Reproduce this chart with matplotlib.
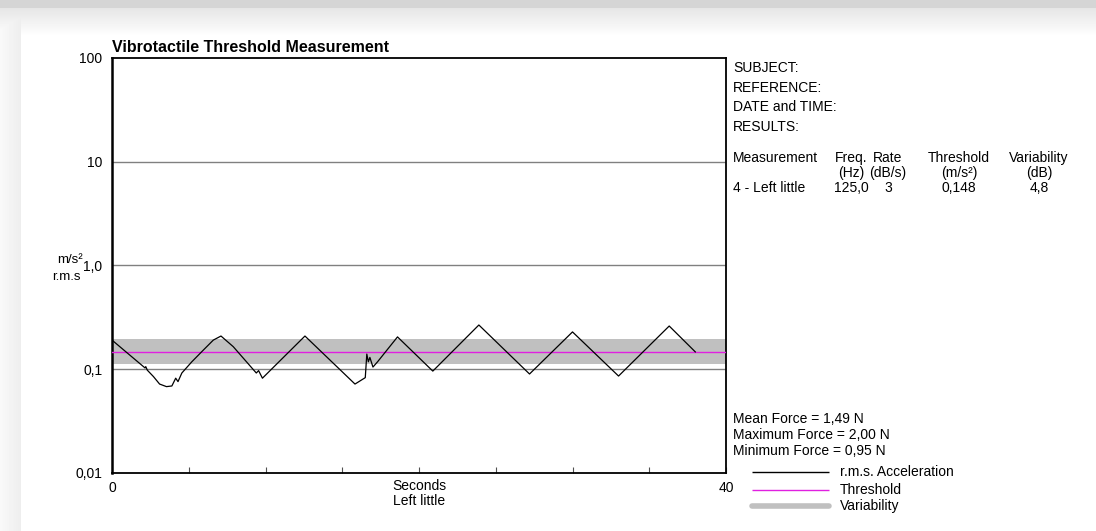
import numpy as np
import matplotlib
matplotlib.use("Agg")
import matplotlib.pyplot as plt
from matplotlib.lines import Line2D

plt.rcParams['font.family'] = ['Liberation Sans', 'DejaVu Sans']

# acceleration trace, seconds / m/s² r.m.s.
trace_t = [0.0, 2.15, 2.2, 2.3, 2.7, 3.1, 3.55, 3.9, 4.15, 4.3, 4.55, 5.2, 5.95, 6.6, 7.1,
           7.9, 9.4, 9.55, 9.8, 12.57, 15.83, 16.5, 16.6, 16.7, 16.8, 17.0, 17.3, 18.6,
           20.9, 23.9, 27.2, 30.0, 33.0, 36.3, 38.0]
trace_v = [0.191, 0.103, 0.106, 0.098, 0.085, 0.072, 0.068, 0.069, 0.082, 0.076, 0.092, 0.118,
           0.153, 0.191, 0.209, 0.165, 0.092, 0.097, 0.082, 0.209, 0.072, 0.083, 0.140, 0.118,
           0.130, 0.105, 0.118, 0.205, 0.096, 0.267, 0.090, 0.229, 0.086, 0.261, 0.147]

threshold = 0.148
variability_db = 4.8
duration = 40

y_ticks = [0.01, 0.1, 1, 10, 100]
y_ticklabels = ['0,01', '0,1', '1,0', '10', '100']

info_lines = ['SUBJECT:', 'REFERENCE:', 'DATE and TIME:', 'RESULTS:']
force_lines = ['Mean Force = 1,49 N', 'Maximum Force = 2,00 N', 'Minimum Force = 0,95 N']

W, H = 1096, 531


def px(x, y):
    return x / W, 1 - y / H


fig = plt.figure(figsize=(W / 100, H / 100), dpi=100)

# window background: grey bar on top, soft shadow at the left edge
bg = fig.add_axes([0, 0, 1, 1])
bg.axis('off')
rows = np.arange(H)[:, None]
cols = np.arange(W)[None, :]
top = np.where(rows < 8, 0.835, 0.90 + 0.10 * np.clip((rows - 8) / 28, 0, 1))
top = top * np.ones((1, W))
left = np.where(cols < 21, 0.975 - 0.045 * cols / 21, 1.0) * np.ones((H, 1))
img = np.minimum(top, left)
bg.imshow(img, cmap='gray', vmin=0, vmax=1, aspect='auto', extent=[0, 1, 0, 1])
bg.set_xlim(0, 1)
bg.set_ylim(0, 1)

ax = fig.add_axes([112 / W, 1 - 473 / H, 614 / W, 415 / H])
ax.set_yscale('log')
ax.set_ylim(0.01, 100)
ax.set_xlim(0, duration)

for v in [0.1, 1, 10]:
    ax.axhline(v, color='#808080', lw=1, zorder=1)

half = 10 ** (variability_db / 2 / 20)
ax.axhspan(threshold / half, threshold * half, color='#c0c0c0', lw=0, zorder=2)
ax.axhline(threshold, color='#e020e0', lw=1, zorder=3)
ax.plot(trace_t, trace_v, color='black', lw=0.9, zorder=4)

for s in ax.spines.values():
    s.set_color('black')
    s.set_linewidth(1.3)
ax.spines['left'].set_linewidth(1.8)

ax.set_yticks(y_ticks)
ax.set_yticklabels(y_ticklabels)
ax.yaxis.set_minor_locator(matplotlib.ticker.NullLocator())
ax.tick_params(axis='y', length=0, pad=7, labelsize=10)
ax.set_xticks(range(0, duration + 1, 5))
ax.set_xticklabels(['0'] + [''] * 7 + ['40'])
ax.tick_params(axis='x', direction='in', length=4.5, width=0.8, color='#505050',
               pad=6, labelsize=10)

ax.text(0.0, 1.008, 'Vibrotactile Threshold Measurement', transform=ax.transAxes,
        fontsize=11.5, fontweight='bold', ha='left', va='bottom')
ax.text(0.5, -0.032, 'Seconds', transform=ax.transAxes, fontsize=10, ha='center', va='center')
ax.text(0.5, -0.068, 'Left little', transform=ax.transAxes, fontsize=10, ha='center', va='center')

fig.text(*px(83, 260), 'm/s²', fontsize=9.5, ha='right', va='center')
fig.text(*px(81, 277), 'r.m.s', fontsize=9.5, ha='right', va='center')

# results panel
for i, s in enumerate(info_lines):
    fig.text(*px(733, [68, 88, 107, 127][i]), s, fontsize=10, ha='left', va='center')

fig.text(*px(733, 158), 'Measurement', fontsize=10, ha='left', va='center')
headers = [(851, 'Freq.', '(Hz)', '125,0'), (888, 'Rate', '(dB/s)', '3'),
           (959, 'Threshold', '(m/s²)', '0,148'), (1039, 'Variability', '(dB)', '4,8')]
for x, h1, h2, val in headers:
    fig.text(*px(x, 158), h1, fontsize=10, ha='center', va='center')
    fig.text(*px(x, 173), h2, fontsize=10, ha='center', va='center')
    fig.text(*px(x, 188), val, fontsize=10, ha='center', va='center')
fig.text(*px(733, 188), '4 - Left little', fontsize=10, ha='left', va='center')

for i, s in enumerate(force_lines):
    fig.text(*px(733, 419 + 16 * i), s, fontsize=10, ha='left', va='center')

# legend
legend_items = [('r.m.s. Acceleration', 'black', 1.0, 472),
                ('Threshold', '#e020e0', 1.0, 490),
                ('Variability', '#c0c0c0', 4.0, 506)]
for label, c, lw, y in legend_items:
    x0, yy = px(752, y)
    x1, _ = px(829, y)
    fig.add_artist(Line2D([x0, x1], [yy, yy], color=c, lw=lw,
                          solid_capstyle='round' if lw > 2 else 'butt'))
    fig.text(*px(840, y), label, fontsize=10, ha='left', va='center')

fig.savefig('out.png', dpi=100)
